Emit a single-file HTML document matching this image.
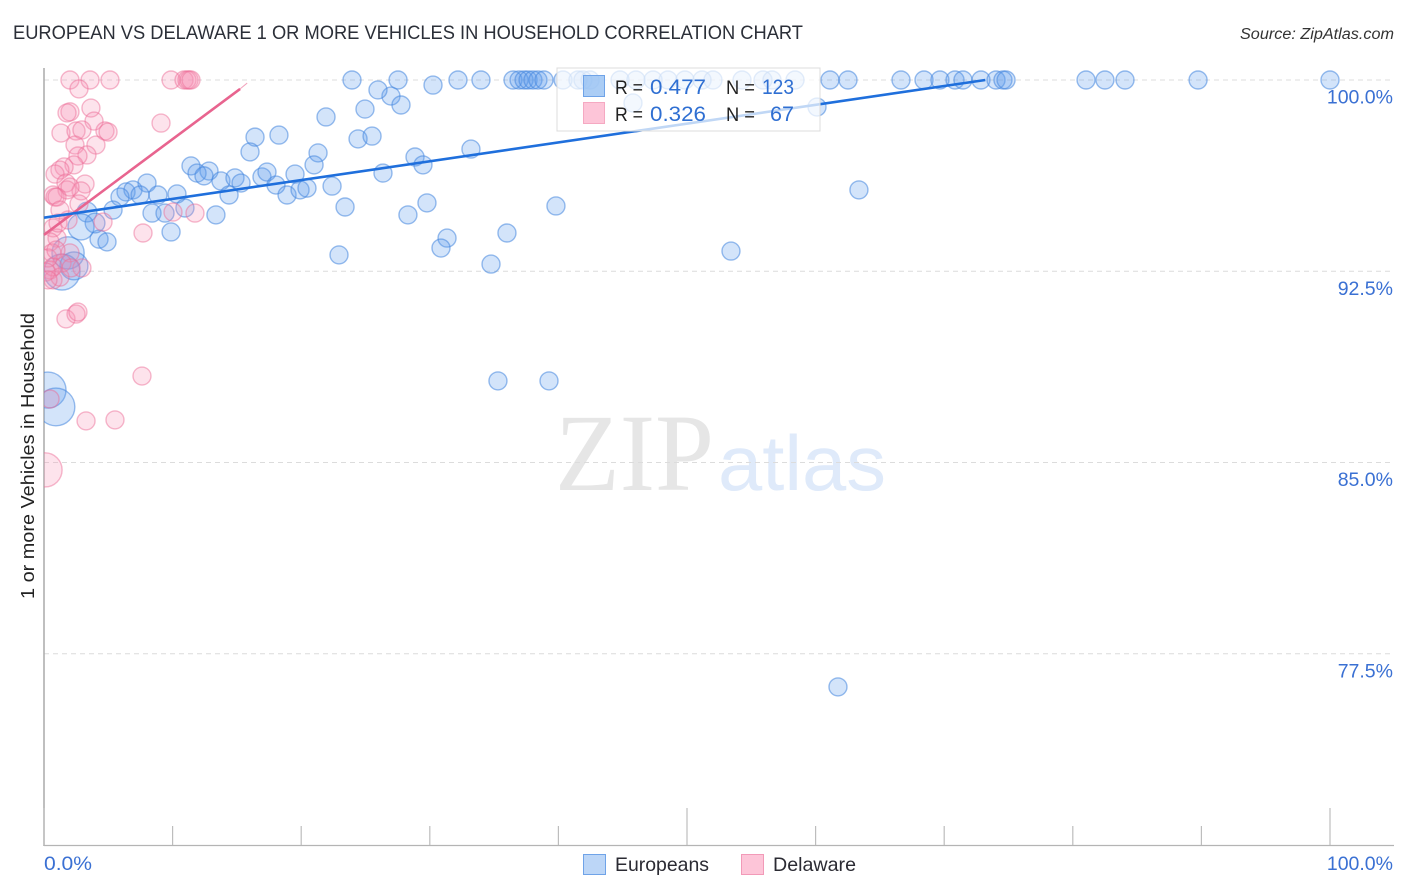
<!DOCTYPE html>
<html lang="en">
<head>
<meta charset="utf-8">
<title>European vs Delaware 1 or more Vehicles in Household Correlation Chart</title>
<style>
html,body{margin:0;padding:0;background:#fff;width:1406px;height:892px;overflow:hidden}
svg{display:block}
text{font-family:"Liberation Sans",sans-serif}
</style>
</head>
<body>
<svg id="chart" width="1406" height="892" viewBox="0 0 1406 892" xmlns="http://www.w3.org/2000/svg">
  <defs>
    <clipPath id="plot-clip"><rect x="44" y="60" width="1350" height="786"/></clipPath>
  </defs>
  <text x="13" y="39" font-size="19.5" fill="#2b2f38" textLength="790" lengthAdjust="spacingAndGlyphs">EUROPEAN VS DELAWARE 1 OR MORE VEHICLES IN HOUSEHOLD CORRELATION CHART</text>
  <text x="1394" y="39" font-size="15.5" font-style="italic" fill="#333" text-anchor="end" textLength="154" lengthAdjust="spacingAndGlyphs">Source: ZipAtlas.com</text>
  <g id="watermark">
    <text x="555" y="490" font-size="110" fill="#e6e6e6" textLength="159" lengthAdjust="spacingAndGlyphs" style="font-family:'Liberation Serif',serif">ZIP</text>
    <text x="718" y="490" font-size="78" fill="#dfeafa" textLength="168" lengthAdjust="spacingAndGlyphs" style="font-family:'Liberation Sans',Arial,sans-serif">atlas</text>
  </g>
  <g id="grid"></g>
  <g id="axes"></g>
  <g id="points" clip-path="url(#plot-clip)"></g>
  <g id="trends"></g>
  <g id="stat-legend">
    <rect x="557" y="68" width="263" height="63" fill="#fff" fill-opacity="0.72" stroke="#dcdcdc" stroke-width="1"/>
    <rect x="583.5" y="75.5" width="21" height="21" fill="#8fbcf2" fill-opacity="0.75" stroke="#6fa3e8"/>
    <rect x="583.5" y="102.5" width="21" height="21" fill="#fdc5d8" stroke="#f5a9c2"/>
    <text x="615" y="94" font-size="19.5" fill="#222" textLength="28" lengthAdjust="spacingAndGlyphs">R =</text>
    <text x="650" y="94" font-size="21.5" fill="#2f6fd2" textLength="56" lengthAdjust="spacingAndGlyphs">0.477</text>
    <text x="726" y="94" font-size="19.5" fill="#222" textLength="29" lengthAdjust="spacingAndGlyphs">N =</text>
    <text x="762" y="94" font-size="21.5" fill="#2f6fd2" textLength="32" lengthAdjust="spacingAndGlyphs">123</text>
    <text x="615" y="121" font-size="19.5" fill="#222" textLength="28" lengthAdjust="spacingAndGlyphs">R =</text>
    <text x="650" y="121" font-size="21.5" fill="#2f6fd2" textLength="56" lengthAdjust="spacingAndGlyphs">0.326</text>
    <text x="726" y="121" font-size="19.5" fill="#222" textLength="29" lengthAdjust="spacingAndGlyphs">N =</text>
    <text x="770" y="121" font-size="21.5" fill="#2f6fd2" textLength="24" lengthAdjust="spacingAndGlyphs">67</text>
  </g>
  <text transform="translate(34,456) rotate(-90)" font-size="18.5" fill="#222" text-anchor="middle" textLength="286" lengthAdjust="spacingAndGlyphs">1 or more Vehicles in Household</text>
  <g id="bottom-legend">
    <rect x="583.5" y="854.5" width="22" height="20" fill="#bcd6f7" stroke="#6fa3e8"/>
    <text x="615" y="871" font-size="19.5" fill="#2b2b33" textLength="94" lengthAdjust="spacingAndGlyphs">Europeans</text>
    <rect x="741.5" y="854.5" width="22" height="20" fill="#fdc5d8" stroke="#f29ab8"/>
    <text x="773" y="871" font-size="19.5" fill="#2b2b33" textLength="83" lengthAdjust="spacingAndGlyphs">Delaware</text>
  </g>
</svg>
<script>
const yTickValues = [100, 92.5, 85, 77.5];
const yTickLabels = ["100.0%", "92.5%", "85.0%", "77.5%"];
const xTickValues = [0, 10, 20, 30, 40, 50, 60, 70, 80, 90, 100];
const xMajorTicks = [0, 50, 100];
const xEndLabels = ["0.0%", "100.0%"];

const europeanX = [23.95,27.53,30.25,32.19,33.98,36.47,36.94,37.33,37.64,38.02,38.41,38.88,40.36,41.52,41.91,42.46,44.79,46.03,47.36,48.52,49.84,51.17,52.02,54.28,55.91,56.61,58.40,61.12,62.52,66.64,68.43,69.67,70.84,71.46,72.86,74.03,74.57,74.81,81.03,82.50,84.06,89.74,100,
  24.96,26.98,27.76,25.97,21.93,24.42,25.51,16.41,18.27,16.02,21.31,33.20,28.85,29.47,11.43,12.83,11.90,12.44,13.76,14.85,15.32,16.95,17.34,18.04,19.52,21.00,18.90,19.91,20.45,22.40,26.36,8.01,6.38,6.92,5.91,7.47,8.86,10.34,5.37,8.40,9.41,10.96,13.37,14.39,23.41,28.30,29.78,39.81,63.37,9.88,4.28,4.90,31.34,30.87,36.00,22.94,34.76,53.42,35.30,39.27,61.74,45.80,60.11];
const europeanY = [100,100,99.80,100,100,100,100,100,100,100,100,100,100,100,100,100,100,100,100,100,100,100,100,100,100,100,100,100,100,100,100,100,100,100,100,100,100,100,100,100,100,100,100,
  98.86,99.37,99.02,99.61,98.55,97.69,97.80,97.76,97.84,97.18,97.14,97.29,96.98,96.67,96.63,96.43,96.35,96.24,96.04,96.16,95.96,96.20,96.39,95.88,96.31,96.67,95.49,95.69,95.76,95.84,96.35,95.96,95.61,95.69,95.41,95.49,95.49,95.53,94.90,94.78,94.78,94.98,94.71,95.49,95.02,94.71,95.18,95.06,95.69,94.04,93.76,93.65,93.80,93.41,94.00,93.14,92.78,93.29,88.20,88.20,76.20,99.10,98.94];

const europeanLargeX = [3.34,3.97,2.88,1.87,1.40,2.33,0.31,0.93];
const europeanLargeY = [94.82,94.39,94.24,93.22,92.47,92.71,87.84,87.18];
const europeanLargeWeight = [1.2,1.2,2.1,3.2,4,2.4,4,4.4];

const delawareX = [2.02,3.58,5.13,9.88,10.89,11.12,11.28,11.43,2.72,3.65,2.02,1.79,9.10,3.89,1.32,2.49,2.95,4.74,4.98,2.41,4.04,3.34,2.64,2.33,1.56,1.24,0.86,1.71,3.19,2.88,1.79,2.02,0.70,0.86,1.01,2.72,11.74,10.03,7.70,4.59,1.87,1.24,0.70,1.01,0.47,0.62,2.02,1.40,2.95,0.47,0.70,1.24,0.70,1.71,2.49,2.64,7.62,3.27,5.52,0.47,1.09,0.31,0.16,0.93,0.31,2.10];
const delawareY = [100,100,100,100,100,100,100,100,99.65,98.90,98.75,98.71,98.31,98.39,97.92,98.00,98.04,98.00,97.96,97.45,97.45,97.06,97.02,96.67,96.59,96.47,96.31,95.96,95.92,95.65,95.69,95.80,95.49,95.41,95.41,95.14,94.78,94.82,94.00,94.43,94.51,94.90,94.20,93.80,93.65,93.22,93.22,92.82,92.63,92.55,92.16,92.27,92.67,90.63,90.82,90.90,88.39,86.63,86.67,87.49,94.39,93.02,92.47,93.33,92.16,92.63];

const delawareLargeX = [0.08];
const delawareLargeY = [84.71];
const delawareLargeWeight = [3.6];

const europeanTrendX = [0, 73.2];
const europeanTrendY = [94.6, 100];
const delawareTrendX = [0, 15.25];
const delawareTrendY = [93.93, 99.65];
const delawareTailX = [15.25, 15.8];
const delawareTailY = [99.65, 99.88];

const NS = "http://www.w3.org/2000/svg";
function xScale(v){ return 44 + v * 12.86; }
function yScale(v){ return 80 + (100 - v) * 25.5; }
function rScale(w){ return 9 * Math.sqrt(w); }
function make(tag, attrs, parent){
  const el = document.createElementNS(NS, tag);
  for (const k in attrs) el.setAttribute(k, attrs[k]);
  parent.appendChild(el);
  return el;
}

const grid = document.getElementById("grid");
const axes = document.getElementById("axes");
const points = document.getElementById("points");
const trends = document.getElementById("trends");

yTickValues.forEach(function(v, i){
  const line = make("line", {x1:44, x2:1394, y1:yScale(v), y2:yScale(v), stroke:"#dcdcdc", "stroke-width":1, "stroke-dasharray":"5 4"}, grid);
  
  
  const label = make("text", {x:1393, y:yScale(v) + 23.5, "font-size":19.5, fill:"#3a70d3", "text-anchor":"end"}, axes);
  
  
  label.textContent = yTickLabels[i];
});

const yAxisLine = make("line", {x1:44, x2:44, y1:68, y2:846, stroke:"#aaaaaa", "stroke-width":1.5}, axes);


const xAxisLine = make("line", {x1:44, x2:1394, y1:845.5, y2:845.5, stroke:"#b4b4b4", "stroke-width":1.2}, axes);



xTickValues.forEach(function(v){
  const major = xMajorTicks.indexOf(v) >= 0;
  const tick = make("line", {x1:xScale(v), x2:xScale(v), y1:major ? 808 : 826, y2:845, stroke:"#bdbdbd", "stroke-width":1.2}, axes);
  
  
});

const xLabelStart = make("text", {x:44, y:870, "font-size":19.5, fill:"#3a70d3", textLength:48, lengthAdjust:"spacingAndGlyphs"}, axes);


xLabelStart.textContent = xEndLabels[0];
const xLabelEnd = make("text", {x:1393, y:870, "font-size":19.5, fill:"#3a70d3", "text-anchor":"end"}, axes);


xLabelEnd.textContent = xEndLabels[1];

function drawEuropean(x, y, weight){
  const c = make("circle", {cx:xScale(x), cy:yScale(y), r:rScale(weight), fill:"#5d9ceb", "fill-opacity":0.27, stroke:"#4586df", "stroke-opacity":0.55, "stroke-width":1.4}, points);
  
  
}
function drawDelaware(x, y, weight){
  const c = make("circle", {cx:xScale(x), cy:yScale(y), r:rScale(weight), fill:"#f78fb3", "fill-opacity":0.25, stroke:"#ec6c96", "stroke-opacity":0.48, "stroke-width":1.4}, points);
  
  
}

europeanX.forEach(function(x, i){ drawEuropean(x, europeanY[i], 1); });
europeanLargeX.forEach(function(x, i){ drawEuropean(x, europeanLargeY[i], europeanLargeWeight[i]); });
delawareX.forEach(function(x, i){ drawDelaware(x, delawareY[i], 1); });
delawareLargeX.forEach(function(x, i){ drawDelaware(x, delawareLargeY[i], delawareLargeWeight[i]); });

const delawareTrend = make("line", {x1:xScale(delawareTrendX[0]), y1:yScale(delawareTrendY[0]), x2:xScale(delawareTrendX[1]), y2:yScale(delawareTrendY[1]), stroke:"#e8648f", "stroke-width":2.6}, trends);


const delawareTail = make("line", {x1:xScale(delawareTailX[0]), y1:yScale(delawareTailY[0]), x2:xScale(delawareTailX[1]), y2:yScale(delawareTailY[1]), stroke:"#f2a3bd", "stroke-width":1}, trends);


const europeanTrend = make("line", {x1:xScale(europeanTrendX[0]), y1:yScale(europeanTrendY[0]), x2:xScale(europeanTrendX[1]), y2:yScale(europeanTrendY[1]), stroke:"#1f6fdc", "stroke-width":2.6}, trends);


</script>
</body>
</html>
